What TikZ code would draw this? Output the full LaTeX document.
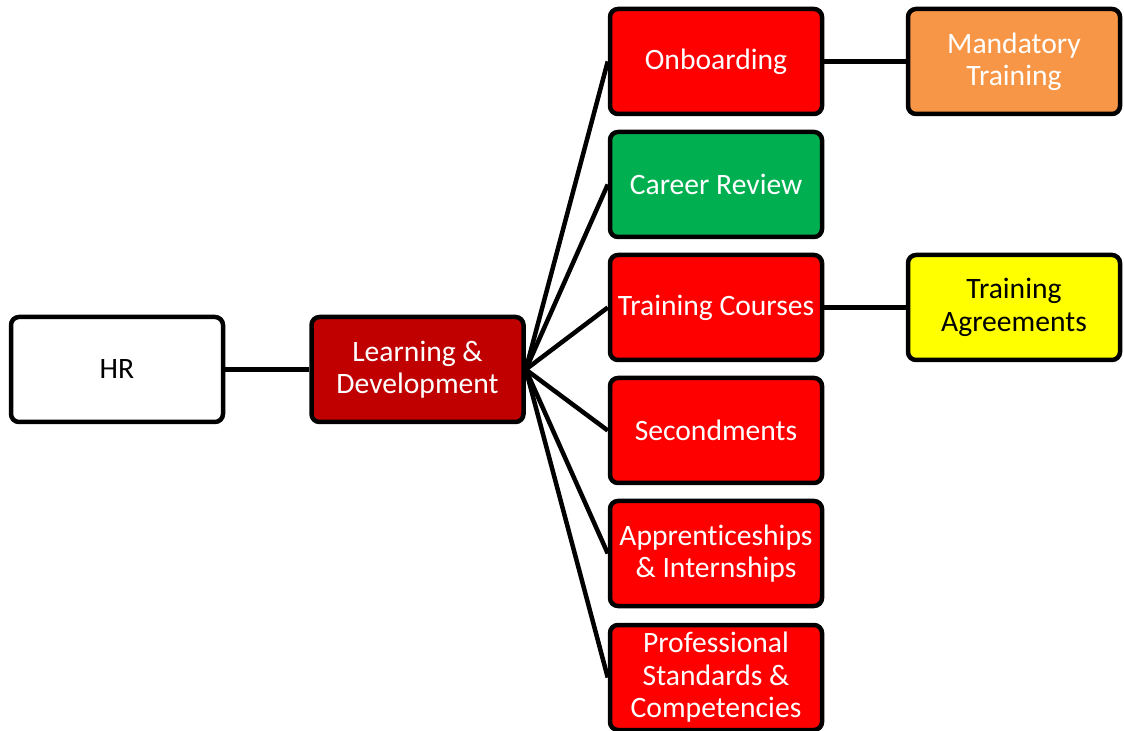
\documentclass[tikz,border=0pt]{standalone}
\usepackage{fontspec}
\setmainfont{Carlito}[Ligatures=CommonOff]
\usepackage{xcolor}
\usepackage{tikz}

\definecolor{hrwhite}{HTML}{FFFFFF}
\definecolor{ldred}{HTML}{C00000}
\definecolor{brightred}{HTML}{FF0000}
\definecolor{careergreen}{HTML}{00B050}
\definecolor{mandorange}{HTML}{F79646}
\definecolor{agreeyellow}{HTML}{FFFF00}

\begin{document}
\begin{tikzpicture}[x=0.5pt,y=-0.5pt,
  box/.style={draw=black, line width=2.25pt, rounded corners=4pt,
    minimum width=106pt, minimum height=52.5pt, inner sep=1pt,
    align=center, font=\fontsize{14.8}{16.2}\selectfont},
  link/.style={draw=black, line width=2.25pt}]

\useasboundingbox (0,0) rectangle (1124,731);

% Root
\node[box, fill=hrwhite, text=black] (hr) at (117,369.5) {HR};
\node[box, fill=ldred, text=white] (ld) at (417.5,369.5) {Learning \&\\Development};

% Branches
\node[box, fill=brightred, text=white] (onb) at (716,61.5) {Onboarding};
\node[box, fill=careergreen, text=white] (car) at (716,184.5) {Career Review};
\node[box, fill=brightred, text=white] (crs) at (716,307.5) {Training Courses};
\node[box, fill=brightred, text=white] (sec) at (716,430.5) {Secondments};
\node[box, fill=brightred, text=white] (app) at (716,553.5) {Apprenticeships\\\& Internships};
\node[box, fill=brightred, text=white] (pro) at (716,677.5) {Professional\\Standards \&\\Competencies};

% Leaves
\node[box, fill=mandorange, text=white] (man) at (1014,61.5) {Mandatory\\Training};
\node[box, fill=agreeyellow, text=black] (agr) at (1014,307.5) {Training\\Agreements};

% Lines
\draw[link] (hr) -- (ld);
\foreach \b in {onb,car,crs,sec,app,pro}
  \draw[link] (ld.east) -- (\b.west);
\draw[link] (onb) -- (man);
\draw[link] (crs) -- (agr);

\end{tikzpicture}
\end{document}
